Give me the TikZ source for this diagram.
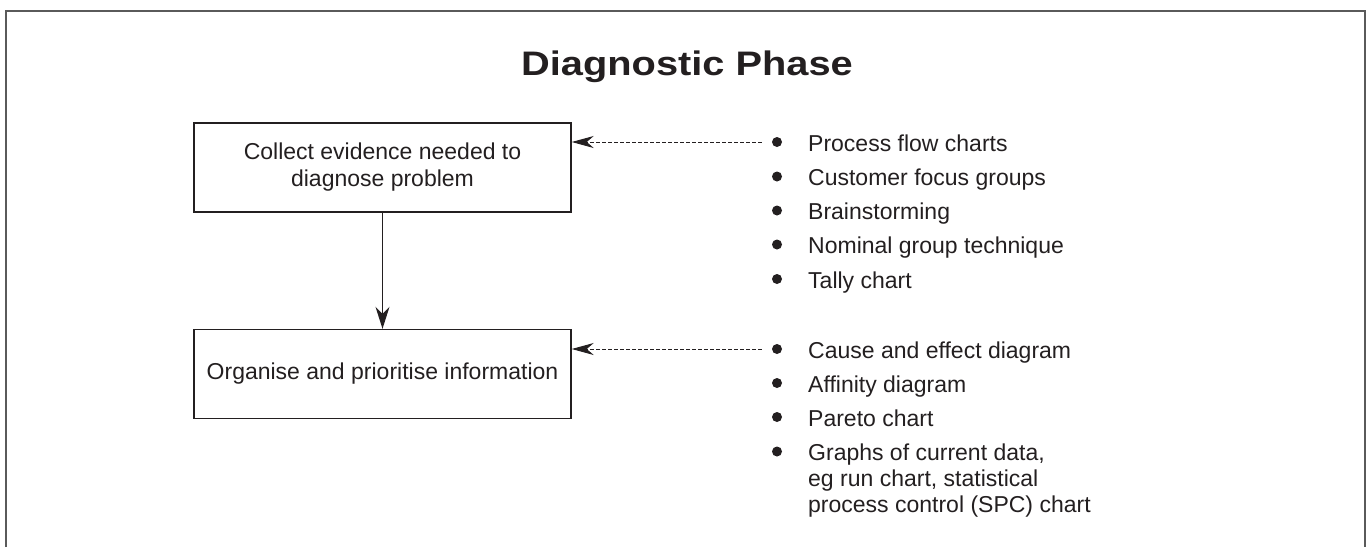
\documentclass[tikz,border=0pt]{standalone}
\usepackage{fontspec}
\setmainfont{Liberation Sans}
\newfontfamily\titlefont{Liberation Sans}[FakeStretch=1.17]
\usetikzlibrary{arrows.meta}
\definecolor{ink}{HTML}{231F20}
\definecolor{framegray}{HTML}{5A5A5A}
\begin{document}
\begin{tikzpicture}[x=1pt,y=-1pt,
  every node/.style={text=ink,font=\fontsize{23}{27}\selectfont},
  box/.style={draw=ink,line width=1.4pt,minimum width=377pt,minimum height=89pt,align=center,inner sep=0pt},
  bul/.style={circle,fill=ink,inner sep=0pt,minimum size=10pt},
  item/.style={anchor=base west,inner sep=0pt},
  arr/.style={draw=ink,line width=1.3pt,-{Stealth[length=22pt,width=14pt,inset=7pt]}},
  dasharr/.style={draw=ink,line width=1pt,dash pattern=on 3.5pt off 2.5pt,shorten <=10pt,-{Stealth[length=22pt,width=12pt,inset=7pt]}},
  frame/.style={draw=framegray,line width=2pt}]
\useasboundingbox (0,0) rectangle (1370,547);
\draw[frame] (6,547) -- (6,11) -- (1365,11) -- (1365,547);
\node[anchor=base,font=\titlefont\fontsize{34}{40}\selectfont\bfseries] (title) at (687,75) {Diagnostic Phase};
\node[box] (collect) at (382.5,167.5) {Collect evidence needed to\\diagnose problem};
\node[box] (organise) at (382.5,374) {Organise and prioritise information};
\draw[arr] (collect) -- (organise);
% upper list
\node[bul] (b1) at (777,142) {};
\node[bul] (b2) at (777,176.5) {};
\node[bul] (b3) at (777,210.5) {};
\node[bul] (b4) at (777,244.5) {};
\node[bul] (b5) at (777,279) {};
\node[item] (t1) at (808,151) {Process flow charts};
\node[item] (t2) at (808,185.5) {Customer focus groups};
\node[item] (t3) at (808,219.5) {Brainstorming};
\node[item] (t4) at (808,253.5) {Nominal group technique};
\node[item] (t5) at (808,288) {Tally chart};
\draw[dasharr] (b1) -- (b1 -| collect.east);
% lower list
\node[bul] (c1) at (777,349) {};
\node[bul] (c2) at (777,383) {};
\node[bul] (c3) at (777,417) {};
\node[bul] (c4) at (777,451.5) {};
\node[item] (u1) at (808,358) {Cause and effect diagram};
\node[item] (u2) at (808,392) {Affinity diagram};
\node[item] (u3) at (808,426) {Pareto chart};
\node[anchor=north west,inner sep=0pt,align=left,font=\fontsize{23}{26.3}\selectfont] (u4) at (808,443.5) {Graphs of current data,\\eg run chart, statistical\\process control (SPC) chart};
\draw[dasharr] (c1) -- (c1 -| organise.east);
\end{tikzpicture}
\end{document}
